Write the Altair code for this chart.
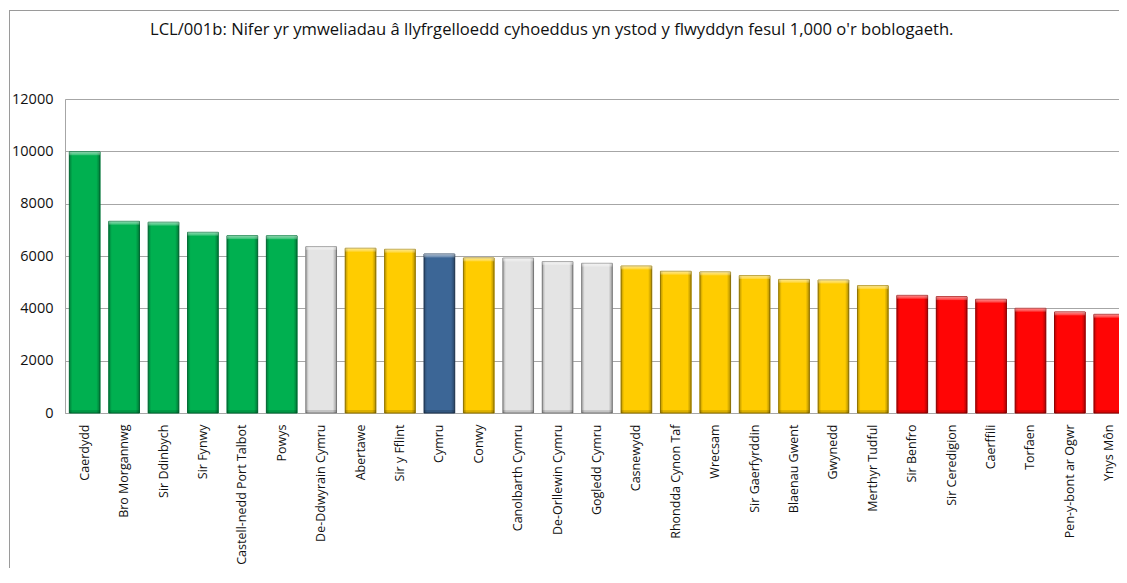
import altair as alt
import pandas as pd

regions = ["Caerdydd", "Bro Morgannwg", "Sir Ddinbych", "Sir Fynwy", "Castell-nedd Port Talbot",
           "Powys", "De-Ddwyrain Cymru", "Abertawe", "Sir y Fflint", "Cymru", "Conwy",
           "Canolbarth Cymru", "De-Orllewin Cymru", "Gogledd Cymru", "Casnewydd",
           "Rhondda Cynon Taf", "Wrecsam", "Sir Gaerfyrddin", "Blaenau Gwent", "Gwynedd",
           "Merthyr Tudful", "Sir Benfro", "Sir Ceredigion", "Caerffili", "Torfaen",
           "Pen-y-bont ar Ogwr", "Ynys Môn"]
visits = [9980, 7325, 7290, 6905, 6775, 6770, 6355, 6295, 6255, 6075, 5925, 5920, 5785, 5720,
          5615, 5415, 5390, 5250, 5105, 5080, 4865, 4495, 4445, 4345, 4000, 3860, 3770]
groups = (["Uchaf"] * 6 + ["Rhanbarth", "Canol", "Canol", "Cymru", "Canol",
           "Rhanbarth", "Rhanbarth", "Rhanbarth"] + ["Canol"] * 7 + ["Isaf"] * 6)

group_names = ["Uchaf", "Rhanbarth", "Canol", "Cymru", "Isaf"]
fill_colors = ["#00B050", "#E4E4E4", "#FFCC00", "#3C6696", "#FF0505"]
edge_colors = ["#00783A", "#8E8E8E", "#A88600", "#223D5C", "#A30000"]

title_text = "LCL/001b: Nifer yr ymweliadau â llyfrgelloedd cyhoeddus yn ystod y flwyddyn fesul 1,000 o'r boblogaeth."

df = pd.DataFrame({"region": regions, "visits": visits, "group": groups})

FONT = "Open Sans"
x_enc = alt.X("region:N", sort=regions, title=None,
              scale=alt.Scale(paddingInner=0.22, paddingOuter=0.11),
              axis=alt.Axis(labelAngle=270, labelFontSize=12.5, labelPadding=11, ticks=False,
                            domainColor="#A6A6A6", labelColor="#111111", labelFont=FONT,
                            labelLimit=300))
y_enc = alt.Y("visits:Q", title=None,
              scale=alt.Scale(domain=[0, 12000], nice=False),
              axis=alt.Axis(values=list(range(0, 12001, 2000)), ticks=False, labelPadding=12,
                            labelFontSize=14.5, labelColor="#111111", labelFont=FONT,
                            gridColor="#A6A6A6", domainColor="#A6A6A6", format="d"))

base = alt.Chart(df)

bars = base.mark_bar(strokeWidth=1).encode(
    x=x_enc,
    y=y_enc,
    fill=alt.Fill("group:N", scale=alt.Scale(domain=group_names, range=fill_colors), legend=None),
    stroke=alt.Stroke("group:N", scale=alt.Scale(domain=group_names, range=edge_colors), legend=None),
)

side_shade = base.mark_bar(
    fill=alt.Gradient(gradient="linear", x1=0, x2=1, y1=0, y2=0, stops=[
        alt.GradientStop(color="rgba(0,0,0,0.28)", offset=0),
        alt.GradientStop(color="rgba(0,0,0,0)", offset=0.1),
        alt.GradientStop(color="rgba(0,0,0,0)", offset=0.88),
        alt.GradientStop(color="rgba(0,0,0,0.32)", offset=1),
    ])
).encode(x=alt.X("region:N", sort=regions), y="visits:Q")

top_light = base.transform_calculate(cap="datum.visits - 130").mark_bar(
    fill=alt.Gradient(gradient="linear", x1=0, x2=0, y1=0, y2=1, stops=[
        alt.GradientStop(color="rgba(255,255,255,0.55)", offset=0),
        alt.GradientStop(color="rgba(255,255,255,0.2)", offset=1),
    ])
).encode(x=alt.X("region:N", sort=regions), y="visits:Q", y2="cap:Q")

bottom_dark = base.transform_calculate(lo="0", hi="110").mark_bar(
    fill="rgba(0,0,0,0.14)"
).encode(x=alt.X("region:N", sort=regions), y="lo:Q", y2="hi:Q")

frame_df = pd.DataFrame({"f": [0]})
left_border = alt.Chart(frame_df).mark_rule(color="#9A9A9A", strokeWidth=1).encode(
    x=alt.value(-55.5), y=alt.value(-89), y2=alt.value(500))
top_border = alt.Chart(frame_df).mark_rule(color="#9A9A9A", strokeWidth=1).encode(
    x=alt.value(-56), x2=alt.value(1100), y=alt.value(-88.5))

title_mark = alt.Chart(frame_df).mark_text(
    align="left", baseline="middle", font=FONT, fontSize=16.6, color="#111111"
).encode(x=alt.value(85), y=alt.value(-69), text=alt.value(title_text))

chart = alt.layer(bars, side_shade, top_light, bottom_dark, left_border, top_border,
                  title_mark).properties(
    width=1064,
    height=314,
    autosize=alt.AutoSizeParams(type="none"),
    padding={"left": 57, "top": 91, "right": -10, "bottom": 155},
).configure_view(stroke=None).configure(background="white", font=FONT)

chart.save("out.html", embed_options={"renderer": "svg", "actions": False})
